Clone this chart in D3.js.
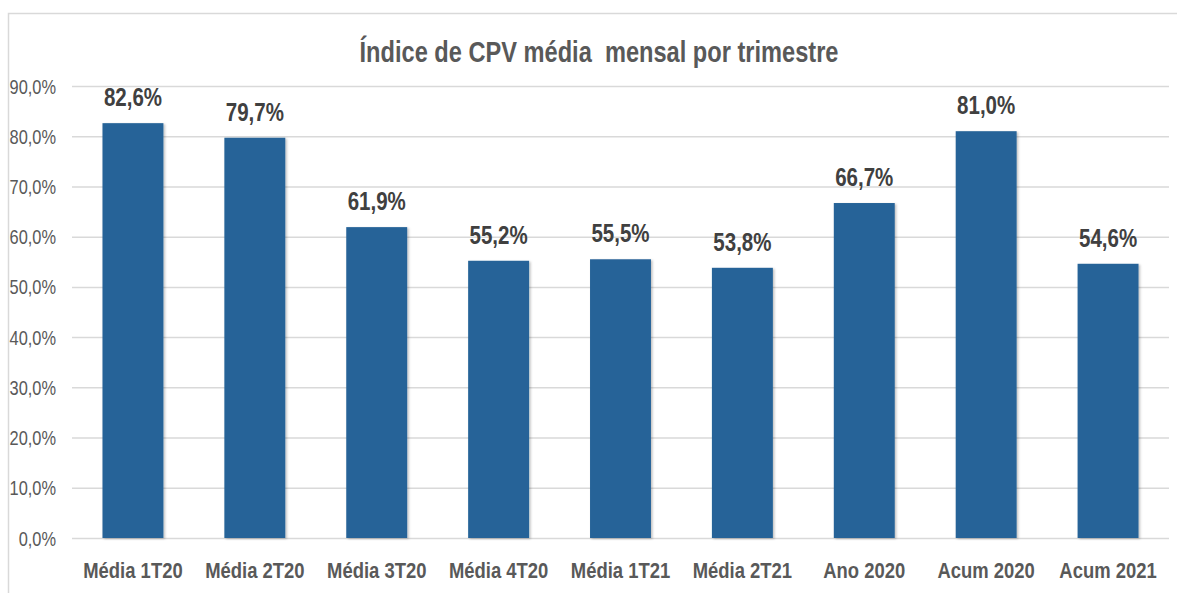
<!DOCTYPE html>
<html>
<head>
<meta charset="utf-8">
<script src="https://cdn.jsdelivr.net/npm/d3@7"></script>
<style>
  html, body { margin: 0; padding: 0; background: #fff; }
  svg { display: block; }
  text { font-family: "Liberation Sans", Arial, sans-serif; }
</style>
</head>
<body>
<svg id="chart" width="1177" height="593"></svg>
<script>
const categories = ['Média 1T20', 'Média 2T20', 'Média 3T20', 'Média 4T20', 'Média 1T21', 'Média 2T21', 'Ano 2020', 'Acum 2020', 'Acum 2021'];
const values = [0.826, 0.797, 0.619, 0.552, 0.555, 0.538, 0.667, 0.810, 0.546];
const yTicks = [0, 0.1, 0.2, 0.3, 0.4, 0.5, 0.6, 0.7, 0.8, 0.9];
const title = 'Índice de CPV média\u00a0 mensal por trimestre';

// the source font is narrow, so squeeze the glyphs horizontally
const narrow = 0.82;

const svg = d3.select('#chart');
const pct = v => (v * 100).toFixed(1).replace('.', ',') + '%';

// chart area border (cut off at right and bottom)
svg.append('path')
  .attr('d', 'M8.5,593 L8.5,13.5 L1177,13.5')
  .attr('fill', 'none')
  .attr('stroke', '#d9d9d9')
  .attr('stroke-width', 1.5);

const defs = svg.append('defs');
const shadow = defs.append('filter').attr('id', 'shadow')
  .attr('x', '-10%').attr('y', '-10%').attr('width', '130%').attr('height', '130%');
shadow.append('feDropShadow')
  .attr('dx', 1.5).attr('dy', 1).attr('stdDeviation', 1)
  .attr('flood-color', '#000').attr('flood-opacity', 0.25);

const x = d3.scaleBand()
  .domain(categories)
  .range([72, 1169])
  .paddingInner(0.5)
  .paddingOuter(0.25);

const y = d3.scaleLinear()
  .domain([0, 0.9])
  .range([538, 86]);

// gridlines + tick labels
const yAxis = d3.axisLeft(y)
  .tickValues(yTicks)
  .tickSize(-(1169 - 72))
  .tickPadding(17)
  .tickFormat(pct);

const gy = svg.append('g')
  .attr('transform', 'translate(72,0)')
  .call(yAxis);
gy.select('.domain').remove();
gy.selectAll('.tick line')
  .attr('stroke', '#d9d9d9')
  .attr('stroke-width', 1.5);
gy.selectAll('.tick text')
  .attr('fill', '#595959')
  .attr('font-size', 20)
  .attr('dy', '0.35em')
  .attr('x', 0)
  .attr('transform', `translate(-16,0) scale(${narrow},1)`);

// bars
svg.append('g')
  .selectAll('rect')
  .data(values)
  .join('rect')
  .attr('x', (d, i) => x(categories[i]))
  .attr('y', d => y(d))
  .attr('width', x.bandwidth())
  .attr('height', d => y(0) - y(d))
  .attr('fill', '#276498')
  .attr('filter', 'url(#shadow)');

// value labels
svg.append('g')
  .selectAll('text')
  .data(values)
  .join('text')
  .attr('transform', (d, i) => `translate(${x(categories[i]) + x.bandwidth() / 2},${y(d) - 17}) scale(${narrow},1)`)
  .attr('text-anchor', 'middle')
  .attr('font-size', 25)
  .attr('font-weight', 'bold')
  .attr('fill', '#404040')
  .text(pct);

// category axis
const gx = svg.append('g')
  .attr('transform', 'translate(0,538)')
  .call(d3.axisBottom(x).tickSize(0).tickPadding(0));
gx.select('.domain').remove();
gx.selectAll('.tick text')
  .attr('y', 0)
  .attr('dy', 0)
  .attr('transform', `translate(0,40) scale(${narrow},1)`)
  .attr('font-size', 22.5)
  .attr('font-weight', 'bold')
  .attr('fill', '#595959');

// title
svg.append('text')
  .attr('transform', `translate(599,62) scale(${narrow},1)`)
  .attr('text-anchor', 'middle')
  .attr('font-size', 28.8)
  .attr('font-weight', 'bold')
  .attr('fill', '#595959')
  .text(title);
</script>
</body>
</html>
